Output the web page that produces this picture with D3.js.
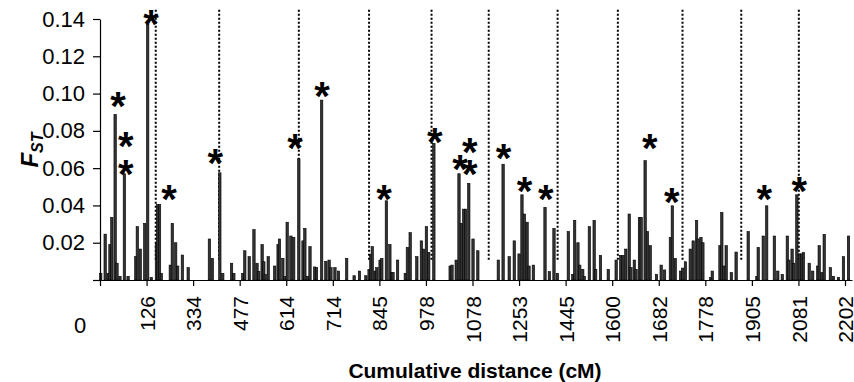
<!DOCTYPE html>
<html><head><meta charset="utf-8">
<script src="https://cdn.jsdelivr.net/npm/d3@7"></script>
<style>
html,body{margin:0;padding:0;background:#fff;}
svg{display:block;}
text{font-family:"Liberation Sans",Arial,sans-serif;fill:#000;}
</style></head>
<body>
<svg id="chart" width="854" height="382"></svg>
<script>
// ---- data ----
const tickCM = [0,126,334,477,614,714,845,978,1078,1253,1445,1600,1682,1778,1905,2081,2202];
const tickLabels = ["","126","334","477","614","714","845","978","1078","1253","1445","1600","1682","1778","1905","2081","2202"];
const axisEndCM = 2220;
const yTicks = [0,0.02,0.04,0.06,0.08,0.10,0.12,0.14];

const markerCM = [2,14,22,27,32,41,46,54,66,76,97,101,109,121,
 131,147,170,175,184,192,232,241,256,265,286,312,
 384,393,416,425,452,459,
 486,492,505,519,528,533,543,548,552,561,580,590,594,604,609,
 616,624,630,641,650,654,660,665,675,679,690,699,706,710,
 720,730,753,774,789,807,816,821,825,833,838,
 847,852,865,875,880,884,897,919,925,933,952,965,971,
 979,984,995,1030,1034,1043,1049,1054,1059,1063,1070,
 1080,1098,1175,1193,1216,1235,
 1253,1265,1275,1286,1294,1312,1360,1378,1397,1411,
 1454,1469,1475,1486,1492,1502,1507,1524,1540,1545,1561,1587,
 1607,1615,1619,1624,1630,1633,1639,1642,1648,1651,1658,1662,1667,1678,
 1687,1694,1706,1710,1716,1727,1731,1737,1747,1753,1760,1763,1769,1773,
 1793,1797,1818,1823,1828,1835,1849,1862,1895,
 1924,1929,1948,1961,1990,2003,2020,2039,2045,2057,2063,2075,
 2084,2089,2094,2109,2118,2131,2135,2142,2148,2164,2172,2185,2198,2211];
const markerFst = [0.0036,0.0246,0.0036,0.019,0.0336,0.0888,0.009,0.002,0.057,0.002,0.0125,0.0286,0.0166,0.0304,
 0.137,0.0014,0.0196,0.0405,0.0405,0.0036,0.008,0.0304,0.02,0.0075,0.0134,0.0066,
 0.022,0.0116,0.0575,0.0036,0.009,0.0036,
 0.0036,0.0157,0.0125,0.027,0.009,0.0046,0.019,0.0098,0.003,0.0125,0.0075,0.019,0.022,0.0116,0.0018,
 0.031,0.0236,0.0229,0.065,0.021,0.0277,0.002,0.0179,0.007,0.0066,0.0965,0.01,0.0107,0.0066,
 0.0066,0.0048,0.0116,0.0023,0.0048,0.0023,0.0057,0.0138,0.0179,0.0048,0.0066,
 0.0107,0.0116,0.0425,0.019,0.004,0.004,0.0107,0.0036,0.0175,0.0254,0.0125,0.021,0.0166,
 0.0286,0.0148,0.0733,0.0075,0.008,0.0107,0.057,0.0304,0.038,0.038,0.0518,
 0.022,0.0157,0.0107,0.0621,0.0125,0.021,
 0.014,0.0457,0.0354,0.031,0.0075,0.008,0.039,0.0045,0.0277,0.0036,
 0.026,0.003,0.032,0.02,0.008,0.0057,0.002,0.0286,0.032,0.0057,0.0132,0.0057,
 0.0107,0.0132,0.0132,0.0166,0.0354,0.0066,0.0107,0.0057,0.0336,0.0336,0.064,0.026,0.0184,0.003,
 0.008,0.0054,0.0229,0.0398,0.0116,0.0048,0.0064,0.0098,0.0166,0.021,0.032,0.022,0.0229,0.02,
 0.0014,0.0048,0.0184,0.0362,0.0075,0.0184,0.004,0.015,0.026,
 0.002,0.0175,0.0236,0.0398,0.0236,0.0048,0.003,0.0236,0.0107,0.0166,0.009,0.0457,
 0.014,0.014,0.0148,0.009,0.0048,0.0075,0.0184,0.004,0.0245,0.0066,0.002,0.0014,0.0125,0.0236];

// significant markers (asterisk positions: cM, FST level of the asterisk)
const starCM  = [49,70,70,146,226,402,633,691,858,997,1051,1072,1072,1195,1276,1363,1666,1709,1952,2083];
const starFst = [0.0976,0.0766,0.0611,0.142,0.0482,0.067,0.0754,0.1033,0.0482,0.0783,0.0643,0.0729,0.0611,0.0702,0.0524,0.0482,0.0754,0.0465,0.0482,0.0524];

// linkage group boundaries (cM)
const boundaryCM = [167,414,641,816,990,1139,1412,1610,1731,1876,2082];
const boundaryTop = 0.145, boundaryBottom = 0.0105;

// ---- layout ----
const svg = d3.select("#chart");
const left = 100, step = 745/16, plotTop = 19, plotBottom = 280;

const x = d3.scaleLinear()
  .domain([...tickCM, axisEndCM])
  .range([...tickCM.map((d,i)=> left + i*step), left + 16*step + 7]);
const y = d3.scaleLinear().domain([0,0.14]).range([plotBottom, plotTop]);

// boundaries (dotted)
svg.append("g").selectAll("line").data(boundaryCM).join("line")
  .attr("x1", d=>x(d)).attr("x2", d=>x(d))
  .attr("y1", y(boundaryTop)).attr("y2", y(boundaryBottom))
  .attr("stroke","#000").attr("stroke-width",2).attr("stroke-dasharray","2,2");

// bars
const bw = 2.4;
svg.append("g").selectAll("rect").data(markerCM.map((c,i)=>({c, v:markerFst[i]}))).join("rect")
  .attr("x", d=>x(d.c)-bw/2).attr("width", bw)
  .attr("y", d=>y(d.v)).attr("height", d=>y(0)-y(d.v))
  .attr("fill","#333").attr("stroke","#000").attr("stroke-width",0.6);

// asterisks
const starFs = 40;
svg.append("g").selectAll("text").data(starCM.map((c,i)=>({c, v:starFst[i]}))).join("text")
  .attr("x", d=>x(d.c)).attr("y", d=>y(d.v) + starFs*0.56)
  .attr("text-anchor","middle").attr("font-weight","bold").attr("font-size", starFs)
  .text("*");

// y axis
const yAxis = svg.append("g").attr("transform",`translate(${left},0)`)
  .call(d3.axisLeft(y).tickValues(yTicks).tickSize(7).tickSizeOuter(0).tickPadding(8)
    .tickFormat(d=> d===0 ? "" : d3.format(".2f")(d)));
yAxis.selectAll("text").attr("font-size",22).attr("font-family",'"Liberation Sans",Arial,sans-serif');
yAxis.selectAll("line,path").attr("stroke","#000").attr("stroke-width",1.2);

// x axis
const xAxis = svg.append("g").attr("transform",`translate(0,${plotBottom})`)
  .call(d3.axisBottom(x).tickValues(tickCM).tickSize(6).tickSizeOuter(0)
    .tickFormat((d,i)=> tickLabels[i]));
xAxis.selectAll("line,path").attr("stroke","#000").attr("stroke-width",1.2);
xAxis.selectAll("text")
  .attr("font-size",21).attr("font-family",'"Liberation Sans",Arial,sans-serif')
  .attr("text-anchor","end").attr("x",0).attr("y",0).attr("dy","0.36em")
  .attr("transform","translate(0,16) rotate(-90)");

// lone zero label
svg.append("text").attr("x", left-20).attr("y", plotBottom+53)
  .attr("text-anchor","middle").attr("font-size",22).text("0");

// axis titles
svg.append("text").attr("x", 475).attr("y", 378)
  .attr("text-anchor","middle").attr("font-weight","bold").attr("font-size",21)
  .text("Cumulative distance (cM)");

const yt = svg.append("text").attr("transform","translate(38,150) rotate(-90)")
  .attr("text-anchor","middle").attr("font-weight","bold").attr("font-style","italic");
yt.append("tspan").attr("font-size",24).text("F");
yt.append("tspan").attr("font-size",16).attr("dy",5).text("ST");
</script>
</body></html>
